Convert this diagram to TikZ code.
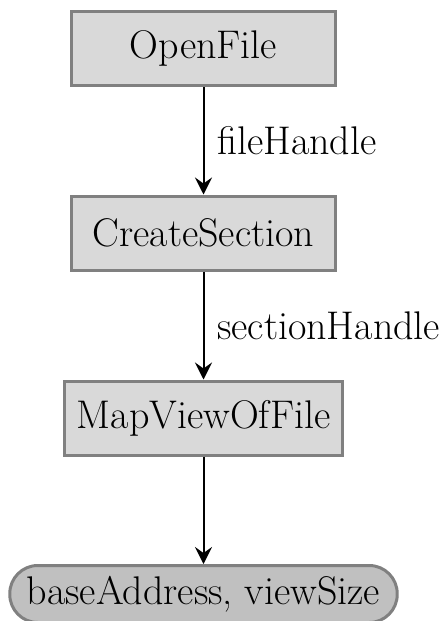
\documentclass[tikz,border=0pt]{standalone}
\usetikzlibrary{arrows.meta,positioning}
\definecolor{boxfill}{HTML}{D9D9D9}
\definecolor{boxline}{HTML}{808080}
\definecolor{endfill}{HTML}{C0C0C0}
\tikzset{
  stepbox/.style={draw=boxline, fill=boxfill, line width=1.5pt,
    minimum width=132pt, minimum height=37pt, inner xsep=6.2pt,
    font=\fontsize{20}{24}\selectfont},
  resultbox/.style={draw=boxline, fill=endfill, line width=1.5pt,
    rounded corners=14pt, minimum height=28.5pt, inner xsep=8.5pt,
    font=\fontsize{20}{24}\selectfont},
  flow/.style={-{Stealth[length=8.5pt,width=8.5pt,inset=3pt]}, line width=1pt},
  edgelabel/.style={right, xshift=3pt, font=\fontsize{20}{24}\selectfont}
}
\begin{document}
\begin{tikzpicture}[x=0.5pt,y=-0.5pt]
  \useasboundingbox (0,0) rectangle (440,621);
  \node[stepbox] (open) at (203.5,48.5) {OpenFile};
  \node[stepbox] (create) at (203.5,233) {CreateSection};
  \node[stepbox] (map) at (203.5,418) {MapViewOfFile};
  \node[resultbox] (result) at (203.5,594) {baseAddress, viewSize};
  \draw[flow] (open) -- node[edgelabel] {fileHandle} (create);
  \draw[flow] (create) -- node[edgelabel] {sectionHandle} (map);
  \draw[flow] (map) -- (result);
\end{tikzpicture}
\end{document}
